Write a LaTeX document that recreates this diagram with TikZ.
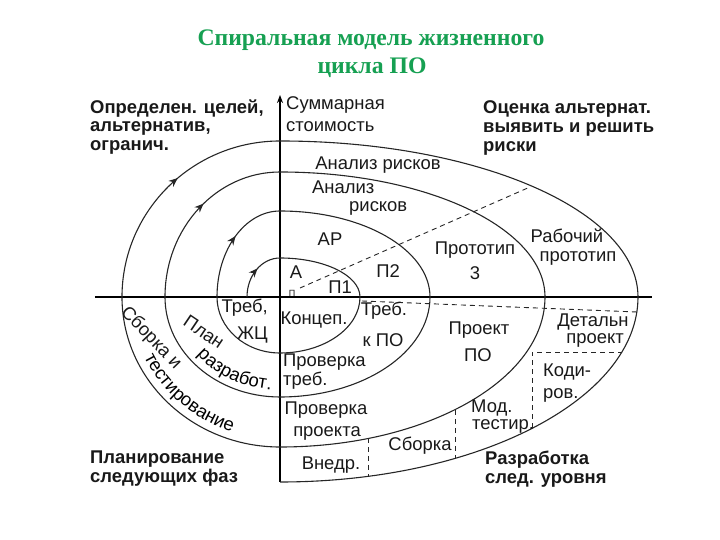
\documentclass[tikz,border=0pt]{standalone}
\usepackage{fontspec}
\setmainfont{Liberation Serif}
\setsansfont{Liberation Sans}
\usetikzlibrary{arrows.meta,decorations.markings,decorations.text}
\definecolor{titlegreen}{RGB}{22,160,82}
\newcommand{\lblfont}{\sffamily\fontsize{18.5}{21}\selectfont}

\begin{document}
\begin{tikzpicture}[x=1bp,y=1bp,
    lbl/.style={font=\lblfont, inner sep=0pt, text=black!90},
    corner/.style={font=\sffamily\bfseries\fontsize{18.5}{19}\selectfont, align=left, anchor=west, inner sep=0pt, text=black!90},
    heading/.style={font=\rmfamily\bfseries\fontsize{23.8}{28}\selectfont, text=titlegreen, inner sep=0pt},
    spiral/.style={line width=1.1bp, draw=black!85},
    axis/.style={line width=2bp, draw=black},
    dsh/.style={line width=0.9bp, draw=black!85, dash pattern=on 5bp off 4bp},
    arrowmark/.style={decoration={markings, mark=at position 0.55 with {\arrow{Stealth[length=9bp,width=7.5bp]}}}, postaction={decorate}}]
    \useasboundingbox (-280,-243) rectangle (440,297);
    % title
    \node[heading] (title1) at (91,257) {Спиральная модель жизненного};
    \node[heading] (title2) at (92,229) {цикла ПО};
    % axes
    \draw[axis, -{Stealth[length=8bp,width=6bp]}] (0,-185) -- (0,202);
    \draw[axis] (-185,0) -- (372,0);
    % spiral, one turn after another
    \draw[spiral, arrowmark] (-33,0) arc (180:90:33 and 39);
    \draw[spiral] (0,39) arc (90:0:80 and 39) arc (0:-90:80 and 56) arc (270:180:63 and 56);
    \draw[spiral, arrowmark] (-63,0) arc (180:90:63 and 86);
    \draw[spiral] (0,86) arc (90:0:150 and 86) arc (0:-90:150 and 100) arc (270:180:115 and 100);
    \draw[spiral, arrowmark] (-115,0) arc (180:90:115 and 125);
    \draw[spiral] (0,125) arc (90:0:265 and 125) arc (0:-90:265 and 150) arc (270:180:158 and 150);
    \draw[spiral, arrowmark] (-158,0) arc (180:90:158 and 156);
    \draw[spiral] (0,156) arc (90:0:358 and 156) arc (0:-90:358 and 185);
    % dashed borders
    \draw[dsh] (20,9) -- (250,110);
    \draw[dsh] (82,-4) -- (357,-15);
    \draw[dsh] (252,-131) -- (252,-55) -- (342,-55);
    \draw[dsh] (175,-113) -- (175,-161);
    \draw[dsh] (88,-141) -- (88,-179);
    % quadrant headings
    \node[corner] (goals) at (-190,170) {Определен. целей,\\альтернатив,\\огранич.};
    \node[corner] (risks) at (203,169) {Оценка альтернат.\\выявить и решить\\риски};
    \node[corner] (planning) at (-190,-172) {Планирование\\следующих фаз};
    \node[corner] (develop) at (205,-172) {Разработка\\след. уровня};
    % axis caption
    \node[lbl, anchor=west] (cost1) at (6,192) {Суммарная};
    \node[lbl, anchor=west] (cost2) at (6,170) {стоимость};
    % upper right
    \node[lbl] (ra4) at (98,132) {Анализ рисков};
    \node[lbl, anchor=west] (ra3a) at (32,110) {Анализ};
    \node[lbl, anchor=west] (ra3b) at (69,89) {рисков};
    \node[lbl] (ra2) at (50,58) {АР};
    \node[lbl] (ra1) at (16,25) {А};
    \node[lbl, font=\sffamily\fontsize{9}{9}\selectfont] (p0) at (12,4) {П};
    \node[lbl] (p1) at (60,10) {П1};
    \node[lbl] (p2) at (108,26) {П2};
    \node[lbl] (p3a) at (195,47) {Прототип};
    \node[lbl] (p3b) at (195,24) {3};
    \node[lbl] (wp1) at (287,61) {Рабочий};
    \node[lbl] (wp2) at (298,39) {прототип};
    % lower right
    \node[lbl, anchor=east] (lc1) at (-12,-11) {Треб,};
    \node[lbl, anchor=east] (lc2) at (-12,-38) {ЖЦ};
    \node[lbl] (concept) at (34,-23) {Концеп.};
    \node[lbl] (req1) at (104,-14) {Треб.};
    \node[lbl] (req2) at (103,-43) {к ПО};
    \node[lbl, anchor=west] (rc1) at (3,-65) {Проверка};
    \node[lbl, anchor=west] (rc2) at (3,-84) {треб.};
    \node[lbl] (des1) at (199,-33) {Проект};
    \node[lbl] (des2) at (198,-58) {ПО};
    \node[lbl] (det1) at (313,-25) {Детальн};
    \node[lbl] (det2) at (315,-43) {проект};
    \node[lbl, anchor=west] (code1) at (263,-75) {Коди-};
    \node[lbl, anchor=west] (code2) at (263,-98) {ров.};
    \node[lbl, anchor=west] (unit1) at (191,-111) {Мод.};
    \node[lbl, anchor=west] (unit2) at (192,-129) {тестир.};
    \node[lbl] (dc1) at (46,-113) {Проверка};
    \node[lbl] (dc2) at (47,-136) {проекта};
    \node[lbl] (integ) at (140,-149) {Сборка};
    \node[lbl] (impl) at (51,-168) {Внедр.};
    % lower left, along the turns
    \node[lbl, rotate=-34] (plan1) at (-76,-35) {План};
    \path[decoration={text along path, text={|\lblfont|разработ.}, text align=center}, decorate]
        (210:106 and 93) arc (210:273:106 and 93);
    \node[lbl, rotate=-46] (test1) at (-129,-41) {Сборка и};
    \path[decoration={text along path, text={|\lblfont|тестирование}, text align=center}, decorate]
        (196:150 and 142) arc (196:260:150 and 142);
\end{tikzpicture}
\end{document}
